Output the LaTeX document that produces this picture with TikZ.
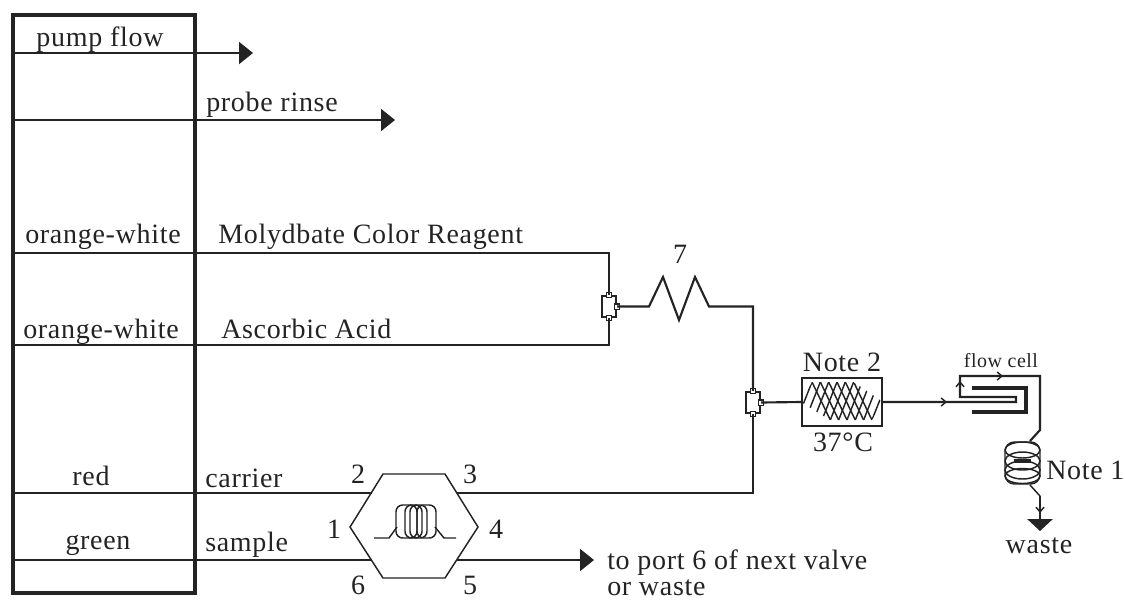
\documentclass[tikz,border=0pt]{standalone}
\usepackage{fontspec}
\setmainfont[LetterSpace=2.5]{Liberation Serif}
\usetikzlibrary{arrows.meta, calc}
\definecolor{linegray}{RGB}{35,35,35}
\tikzset{
  txt/.style      = {inner sep=0pt, anchor=base, font=\fontsize{21}{24}\selectfont, text=linegray},
  txtL/.style     = {txt, anchor=base west},
  txtS/.style     = {txt, font=\fontsize{15}{18}\selectfont},
  pipe/.style     = {line width=1.6pt, color=linegray},
  fine/.style     = {line width=1.1pt, color=linegray},
  arr/.style      = {pipe, -{Triangle[length=10.5pt,width=16.5pt]}},
  tickarr/.style  = {fine, -{Straight Barb[length=3.5pt,width=6pt]}},
  tee/.style      = {draw=linegray, fill=white, line width=1.6pt, minimum width=10.5pt,
                     minimum height=15.75pt, inner sep=0pt},
  nub/.style      = {draw=linegray, fill=white, line width=1pt, minimum size=4pt, inner sep=0pt},
}

\begin{document}
\begin{tikzpicture}[x=0.75pt, y=-0.75pt]
  \useasboundingbox (0,0) rectangle (1125,601);

  % pump block
  \node[draw=linegray, line width=3pt, minimum width=136.5pt, minimum height=433.5pt,
        inner sep=0pt, anchor=north west] (pump) at (11,13) {};

  \coordinate (pumpflowS) at (11,53);
  \coordinate (rinseS)    at (11,120);
  \coordinate (molyS)     at (11,253);
  \coordinate (ascorbS)   at (11,345);
  \coordinate (carrierS)  at (11,493);
  \coordinate (sampleS)   at (11,560);

  \coordinate (pumpflowE) at (253,53);
  \coordinate (rinseE)    at (395,120);
  \coordinate (sampleE)   at (594,560);

  % tees
  \node[tee] (teeA) at (609,306.5) {};
  \node[tee] (teeB) at (753,402.5) {};
  \foreach \t in {teeA,teeB} {
    \node[nub] at (\t.north) {};
    \node[nub] at (\t.south) {};
    \node[nub] at (\t.east) {};
  }

  % valve
  \coordinate (v1) at (350,527);
  \coordinate (v2) at (383,474);
  \coordinate (v3) at (445,474);
  \coordinate (v4) at (478,527);
  \coordinate (v5) at (445,578);
  \coordinate (v6) at (383,578);
  \draw[fine] (v1) -- (v2) -- (v3) -- (v4) -- (v5) -- (v6) -- cycle;
  \coordinate (v2in)  at (372,493);
  \coordinate (v3out) at (457,493);
  \coordinate (v6in)  at (372,560);
  \coordinate (v5out) at (457,560);

  % loop inside the valve
  \draw[fine] (374,538) -- (389,538) -- (397,527);
  \draw[fine] (435,527) -- (444,538) -- (456,538);
  \foreach \a/\b in {396/417,405/427,410/422,417/436}
    \draw[fine, rounded corners=5pt] (\a,505) rectangle (\b,538);

  % lines out of the pump
  \draw[arr] (pumpflowS) -- (pumpflowE);
  \draw[arr] (rinseS) -- (rinseE);
  \draw[pipe] (molyS) -| (teeA.north);
  \draw[pipe] (ascorbS) -| (teeA.south);
  \draw[pipe] (carrierS) -- (v2in);
  \draw[pipe] (sampleS) -- (v6in);
  \draw[arr] (v5out) -- (sampleE);
  \draw[pipe] (v3out) -| (teeB.south);

  % mixing coil 7
  \coordinate (coilS) at (649,306.5);
  \coordinate (coilE) at (709,306.5);
  \draw[pipe] (teeA.east) -- (coilS) -- (663,277) -- (679,320) -- (695,277) -- (coilE)
              -| (teeB.north);

  % heater
  \node[draw=linegray, line width=1.6pt, minimum width=60pt, minimum height=36pt,
        inner sep=0pt] (heater) at (842,402) {};
  \draw[pipe] (teeB.east) -- (heater.west);
  \begin{scope}
    \clip (heater.west) -- (812,382) -- (853.6,382) -- (heater.east) -- (872,420) -- (830,420) -- cycle;
    \foreach \k in {0,...,5}
      \draw[fine] ({812+8.33*\k},382) -- ({830.3+8.33*\k},420);
    \foreach \k in {-4,...,5}
      \draw[fine] ({830.3+8.33*\k},420) -- ({845.3+8.33*\k},382);
  \end{scope}

  % flow cell
  \coordinate (cellT) at (947,402);
  \coordinate (cellA) at (1016,402);
  \coordinate (cellB) at (1016,397);
  \coordinate (cellC) at (960,397);
  \coordinate (cellD) at (960,376);
  \coordinate (cellE) at (1040,376);
  \coordinate (cellF) at (1040,430);
  \draw[pipe] (heater.east) -- (cellA) -- (cellB) -- (cellC) -- (cellD) -- (cellE) -- (cellF) -- (1030,441);
  \draw[tickarr] (heater.east) -- (cellT);
  \draw[tickarr] (990,376) -- (1003,376);
  \draw[tickarr] (960,390) -- (960,381);
  \draw[line width=3.2pt, color=linegray] (972,388) -| (1026,412) -- (972,412);

  % debubbler coil
  \draw[fine, rounded corners=7pt] (1005,442) rectangle (1040,484);
  \foreach \y/\r in {450/8,461/9,470/9,476/7.5}
    \draw[fine] (1022.5,\y) ellipse [x radius=17.5, y radius=\r];
  \draw[line width=3pt, color=linegray] (1014,461) -- (1031,461);

  % waste
  \coordinate (wasteS) at (1040,496);
  \coordinate (wasteE) at (1040,531);
  \draw[fine] (1030,485) -- (wasteS);
  \draw[pipe, -{Triangle[length=9pt,width=19pt]}] (wasteS) -- (wasteE);
  \draw[tickarr] (wasteS) -- (1040,513);

  % labels
  \node[txt] (lpump)  at (100,46)  {pump flow};
  \node[txtL] (lrinse) at (206,111) {probe rinse};
  \node[txt] (lor1)   at (103,243) {orange-white};
  \node[txt] (lor2)   at (101,338) {orange-white};
  \node[txtL] (lmoly) at (218,243) {Molydbate Color Reagent};
  \node[txtL] (lasc)  at (221,338) {Ascorbic Acid};
  \node[txt] (lred)   at (91,485)  {red};
  \node[txt] (lgreen) at (98,549)  {green};
  \node[txtL] (lcarr) at (205,487) {carrier};
  \node[txtL] (lsamp) at (205,551) {sample};
  \foreach \p/\x/\y in {1/334/538,2/358/483,3/470/483,4/496/538,5/470/594,6/358/594}
    \node[txt] (port\p) at (\x,\y) {\p};
  \node[txtL] (lto1)  at (607,569) {to port 6 of next valve};
  \node[txtL] (lto2)  at (607,595) {or waste};
  \node[txt] (lseven) at (680,263) {7};
  \node[txt] (lnote2) at (842,371) {Note 2};
  \node[txt] (ltemp)  at (843,451) {37°C};
  \node[txtS] (lcell)  at (1001,367) {flow cell};
  \node[txtL] (lnote1) at (1046,479) {Note 1};
  \node[txt] (lwaste) at (1039,553) {waste};
\end{tikzpicture}
\end{document}
